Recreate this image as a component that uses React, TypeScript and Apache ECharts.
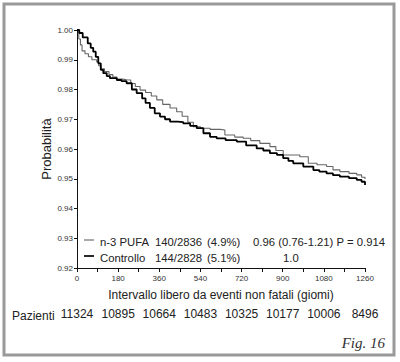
import React, { useEffect, useRef } from "react";
import * as echarts from "echarts";

const xTicks = [0, 180, 360, 540, 720, 900, 1080, 1260];
const patients = ["11324", "10895", "10664", "10483", "10325", "10177", "10006", "8496"];

const pufaDays = [0, 8, 15, 22, 35, 50, 65, 86, 95, 105, 120, 140, 157, 175, 200, 217, 235, 255, 276, 300, 325, 349, 375, 407, 436, 460, 485, 509, 540, 582, 626, 647, 690, 727, 760, 800, 844, 870, 902, 975, 1012, 1050, 1092, 1120, 1150, 1190, 1224, 1245, 1260];
const pufaProb = [1.0, 0.997, 0.995, 0.993, 0.992, 0.991, 0.990, 0.9893, 0.988, 0.987, 0.986, 0.985, 0.9842, 0.9835, 0.9833, 0.9832, 0.982, 0.981, 0.9798, 0.979, 0.9778, 0.9765, 0.975, 0.9738, 0.9725, 0.971, 0.969, 0.9675, 0.967, 0.9666, 0.9664, 0.9647, 0.964, 0.9636, 0.9628, 0.9619, 0.9608, 0.9595, 0.958, 0.9574, 0.9552, 0.9547, 0.9541, 0.953, 0.9524, 0.9518, 0.9513, 0.9505, 0.9499];

const ctrlDays = [0, 10, 25, 47, 60, 71, 82, 93, 104, 115, 130, 144, 174, 195, 217, 240, 261, 285, 300, 319, 340, 363, 385, 407, 440, 465, 495, 524, 553, 582, 611, 650, 699, 740, 786, 815, 844, 875, 902, 925, 946, 990, 1034, 1060, 1092, 1120, 1150, 1190, 1224, 1245, 1260];
const ctrlProb = [1.0, 0.999, 0.9975, 0.9955, 0.994, 0.9927, 0.991, 0.9888, 0.9866, 0.9855, 0.9845, 0.9838, 0.9832, 0.9828, 0.9821, 0.980, 0.9788, 0.977, 0.9755, 0.9738, 0.972, 0.9709, 0.970, 0.9692, 0.969, 0.9686, 0.9678, 0.967, 0.9653, 0.9641, 0.9636, 0.963, 0.9625, 0.9612, 0.9602, 0.9595, 0.9586, 0.958, 0.9569, 0.956, 0.9552, 0.9541, 0.9529, 0.9524, 0.9518, 0.9512, 0.9507, 0.9502, 0.9496, 0.949, 0.9479];

const legendRows = [
  { name: "n-3 PUFA", events: "140/2836", pct: "(4.9%)", hr: "0.96 (0.76-1.21) P = 0.914" },
  { name: "Controllo", events: "144/2828", pct: "(5.1%)", hr: "1.0" },
];

const FONT = "'Liberation Sans', Arial, sans-serif";

export default function App() {
  const ref = useRef<HTMLDivElement>(null);
  useEffect(() => {
    if (!ref.current) return;
    const chart = echarts.init(ref.current, null, { renderer: "svg" });
    const pufa = pufaDays.map((d, i) => [d, pufaProb[i]]);
    const ctrl = ctrlDays.map((d, i) => [d, ctrlProb[i]]);
    const txt = (x: number, y: number, t: string, size = 11.3) => ({
      type: "text",
      x,
      y,
      style: { text: t, fill: "#222", font: `${size}px ${FONT}`, textVerticalAlign: "middle" },
    });
    chart.setOption({
      animation: false,
      backgroundColor: "#fff",
      grid: { left: 77, top: 30, right: 35, bottom: 94 },
      xAxis: [
        {
          type: "value",
          min: 0,
          max: 1260,
          interval: 90,
          axisLine: { lineStyle: { color: "#111", width: 1 } },
          axisTick: { length: 4, lineStyle: { color: "#111" } },
          splitLine: { show: false },
          axisLabel: {
            fontSize: 8,
            color: "#333",
            fontFamily: FONT,
            margin: 6,
            formatter: (v: number) => (xTicks.includes(v) ? String(v) : ""),
          },
          name: "Intervallo libero da eventi non fatali (giomi)",
          nameLocation: "middle",
          nameGap: 21,
          nameMoveOverlap: false,
          nameTextStyle: { fontSize: 12, color: "#222", fontFamily: FONT, verticalAlign: "top" },
        },
        {
          type: "value",
          min: 0,
          max: 1260,
          interval: 180,
          position: "bottom",
          offset: 40,
          axisLine: { show: false },
          axisTick: { show: false },
          splitLine: { show: false },
          axisLabel: {
            fontSize: 12,
            color: "#222",
            fontFamily: FONT,
            margin: 0,
            formatter: (v: number) => patients[Math.round(v / 180)] ?? "",
          },
        },
      ],
      yAxis: {
        type: "value",
        min: 0.92,
        max: 1.0,
        interval: 0.01,
        axisLine: { show: true, lineStyle: { color: "#111", width: 1 } },
        axisTick: { show: true, length: 3, lineStyle: { color: "#111" } },
        splitLine: { show: false },
        axisLabel: {
          fontSize: 8,
          color: "#333",
          fontFamily: FONT,
          margin: 4,
          formatter: (v: number) => v.toFixed(2),
        },
        name: "Probabilità",
        nameLocation: "middle",
        nameGap: 24,
        nameMoveOverlap: false,
        nameTextStyle: { fontSize: 13, color: "#222", fontFamily: FONT },
      },
      series: [
        {
          type: "line",
          name: "n-3 PUFA",
          data: pufa,
          step: "end",
          showSymbol: false,
          lineStyle: { color: "#666", width: 1.1 },
        },
        {
          type: "line",
          name: "Controllo",
          data: ctrl,
          step: "end",
          showSymbol: false,
          lineStyle: { color: "#000", width: 1.8 },
        },
      ],
      graphic: [
        {
          type: "rect",
          z: -10,
          shape: { x: 4, y: 4, width: 390, height: 351 },
          style: { fill: "none", stroke: "#999", lineWidth: 3 },
        },
        { type: "line", shape: { x1: 84, y1: 240, x2: 94, y2: 240 }, style: { stroke: "#555", lineWidth: 1 } },
        { type: "line", shape: { x1: 84, y1: 256, x2: 94, y2: 256 }, style: { stroke: "#111", lineWidth: 1.8 } },
        txt(100, 242, legendRows[0].name),
        txt(155, 242, legendRows[0].events),
        txt(207, 242, legendRows[0].pct),
        txt(253, 242, legendRows[0].hr),
        txt(100, 258, legendRows[1].name),
        txt(155, 258, legendRows[1].events),
        txt(207, 258, legendRows[1].pct),
        txt(283, 258, legendRows[1].hr),
        txt(12, 316, "Pazienti", 12),
        {
          type: "text",
          x: 385,
          y: 343,
          style: {
            text: "Fig. 16",
            fill: "#333",
            font: "italic 15px 'Liberation Serif', 'Times New Roman', serif",
            textAlign: "right",
            textVerticalAlign: "middle",
          },
        },
      ],
    });
    return () => chart.dispose();
  }, []);
  return <div ref={ref} style={{ position: "fixed", left: 0, top: 0, width: 400, height: 362 }} />;
}
